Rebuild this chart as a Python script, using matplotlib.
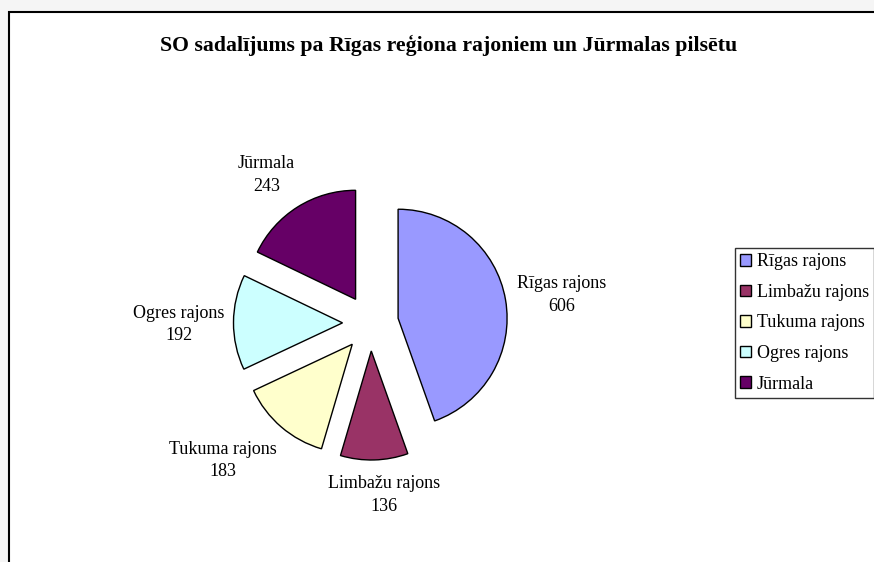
import numpy as np
import matplotlib.pyplot as plt
from matplotlib.patches import Rectangle, Patch

# Dati
regioni = ['Rīgas rajons', 'Limbažu rajons', 'Tukuma rajons', 'Ogres rajons', 'Jūrmala']
vertibas = [606, 136, 183, 192, 243]
krasas = ['#9999FF', '#993366', '#FFFFCC', '#CCFFFF', '#660066']

plt.rcParams['font.family'] = ['Liberation Serif', 'DejaVu Serif']

fig = plt.figure(figsize=(8.74, 5.62), dpi=100, facecolor='#f5f5f5')
# asis pikseļu koordinātēs, y uz augšu
ax = fig.add_axes([0, 0, 1, 1])

# rāmis ap diagrammu (labā un apakšējā mala ārpus attēla)
ax.add_patch(Rectangle((9, -20), 900, 562 - 12 + 20, facecolor='white',
                       edgecolor='black', linewidth=1.5, zorder=0))

centrs = (370.5, 239)
radiuss = 109
# explode matplotlib'ā ir absolūtās vienībās
wedges, _ = ax.pie(vertibas, colors=krasas, startangle=90, counterclock=False,
                   center=centrs, radius=radiuss, explode=[28] * len(vertibas),
                   wedgeprops=dict(edgecolor='black', linewidth=1.0),
                   frame=True)
ax.set_xlim(0, 874)
ax.set_ylim(0, 562)
ax.set_aspect('equal')
ax.axis('off')

# etiķetes ar nosaukumu un vērtību (attālums rādiusos, leņķa nobīde grādos)
attalumi = [1.77, 1.58, 1.85, 1.76, 1.66]
lenka_nobide = [-1.5, 2.9, -6.4, 0.7, 3.0]
for w, nos, v, d, dl in zip(wedges, regioni, vertibas, attalumi, lenka_nobide):
    ang = np.deg2rad((w.theta1 + w.theta2) / 2 + dl)
    x = centrs[0] + d * radiuss * np.cos(ang)
    y = centrs[1] + d * radiuss * np.sin(ang)
    ax.text(x, y, f'{nos}\n{v}', ha='center', va='center', fontsize=13,
            linespacing=1.45)

ax.text(449, 517, 'SO sadalījums pa Rīgas reģiona rajoniem un Jūrmalas pilsētu',
        ha='center', va='center', fontsize=15.7, fontweight='bold')

handles = [Patch(facecolor=c, edgecolor='black', linewidth=1.0) for c in krasas]
leg = fig.legend(handles, regioni, loc='upper left',
                 bbox_to_anchor=(735 / 874, 1 - 248 / 562),
                 fontsize=13, frameon=True, fancybox=False, shadow=False,
                 handlelength=0.6, handleheight=0.6, handletextpad=0.3,
                 labelspacing=0.75, borderpad=0.3, borderaxespad=0)
leg.get_frame().set_edgecolor('black')
leg.get_frame().set_linewidth(1.0)

fig.savefig('out.png', dpi=100, facecolor=fig.get_facecolor())
